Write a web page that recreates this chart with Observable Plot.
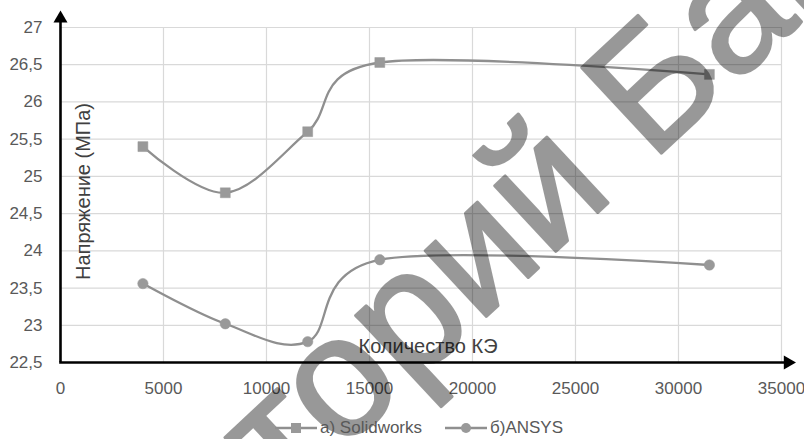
<!DOCTYPE html>
<html>
<head>
<meta charset="utf-8">
<script src="https://cdn.jsdelivr.net/npm/d3@7"></script>
<script src="https://cdn.jsdelivr.net/npm/@observablehq/plot@0.6"></script>
<style>
  body { margin: 0; background: #fff; font-family: "Liberation Sans", Arial, sans-serif; }
  #wrap { position: relative; width: 804px; height: 439px; overflow: hidden; }
  #wrap svg { overflow: visible; }
  .legend { position: absolute; top: 415px; left: 0; width: 804px; height: 26px; font-size: 17px; color: #595959; }
  .item { position: absolute; top: 0; display: flex; align-items: center; height: 26px; }
  .item svg { margin-right: 3px; }
</style>
</head>
<body>
<div id="wrap"></div>
<script>
// ---- data ----
const elementCounts = [4000, 8000, 12000, 15500, 31500];
const solidworksValues = [25.4, 24.78, 25.6, 26.53, 26.37];
const ansysValues = [23.56, 23.02, 22.78, 23.88, 23.81];
const seriesNames = ["а) Solidworks", "б)ANSYS"];
const xTickValues = [0, 5000, 10000, 15000, 20000, 25000, 30000, 35000];
const yTickValues = [22.5, 23, 23.5, 24, 24.5, 25, 25.5, 26, 26.5, 27];
const xAxisTitle = "Количество КЭ";
const yAxisTitle = "Напряжение (МПа)";
const watermark = "Репозиторий БарГУ";

const swRows = elementCounts.map((x, i) => ({x, y: solidworksValues[i]}));
const anRows = elementCounts.map((x, i) => ({x, y: ansysValues[i]}));

const lineColor = "#8f8f8f";
const markColor = "#999999";

const xMin = xTickValues[0], xMax = xTickValues[xTickValues.length - 1];
const yMin = yTickValues[0], yMax = yTickValues[yTickValues.length - 1];
const xArrowTip = xMax + 580;
const yArrowTip = yMax + 0.19;

const chart = Plot.plot({
  width: 804,
  height: 410,
  marginLeft: 60,
  marginRight: 23,
  marginTop: 27,
  marginBottom: 48,
  style: {fontSize: "17px", fontFamily: "'Liberation Sans', Arial, sans-serif", color: "#595959", overflow: "visible", background: "transparent"},
  x: {domain: [xMin, xMax]},
  y: {domain: [yMin, yMax]},
  marks: [
    Plot.gridX(xTickValues.slice(1), {stroke: "#d9d9d9", strokeOpacity: 1, strokeWidth: 1.2}),
    Plot.gridY(yTickValues.slice(1), {stroke: "#d9d9d9", strokeOpacity: 1, strokeWidth: 1.2}),
    Plot.axisX({ticks: xTickValues, tickSize: 0, tickPadding: 19, tickFormat: d => String(d), fontSize: 17, label: null}),
    Plot.axisY({ticks: yTickValues, tickSize: 0, tickPadding: 18, tickFormat: d => String(d).replace(".", ","), fontSize: 17, label: null}),
    // axis lines with arrowheads
    Plot.ruleX([xMin], {y1: yMin, y2: yArrowTip - 0.08, stroke: "black", strokeWidth: 2.6, clip: false}),
    Plot.ruleY([yMin], {x1: xMin - 40, x2: xArrowTip - 300, stroke: "black", strokeWidth: 2.6, clip: false}),
    Plot.dot([{x: xMin, y: yArrowTip - 0.07}], {x: "x", y: "y", symbol: "triangle", r: 5.2, fill: "black", stroke: "none"}),
    Plot.dot([{x: xArrowTip - 270, y: yMin}], {x: "x", y: "y", symbol: "triangle", r: 5.2, fill: "black", stroke: "none", rotate: 90}),
    // series
    Plot.line(swRows, {x: "x", y: "y", curve: "cardinal", tension: 0, stroke: lineColor, strokeWidth: 2.3}),
    Plot.line(anRows, {x: "x", y: "y", curve: "cardinal", tension: 0, stroke: lineColor, strokeWidth: 2.3}),
    Plot.dot(swRows, {x: "x", y: "y", symbol: "square", r: 5.6, fill: markColor, stroke: markColor, strokeWidth: 0.5}),
    Plot.dot(anRows, {x: "x", y: "y", symbol: "circle", r: 5.2, fill: markColor, stroke: markColor, strokeWidth: 0.5}),
    // axis titles
    Plot.text([yAxisTitle], {frameAnchor: "left", textAnchor: "middle", lineAnchor: "middle", dx: 23, dy: -3.5, rotate: -90, fontSize: 20, fill: "#404040", text: d => d}),
    Plot.text([xAxisTitle], {frameAnchor: "bottom", dx: 7, dy: -15.5, lineAnchor: "middle", fontSize: 20, fill: "#404040", text: d => d}),
    // watermark
    Plot.text([watermark], {x: () => 16942, y: () => 23.156, rotate: -43, fontSize: 170, fill: "black", stroke: "black", strokeWidth: 3, opacity: 0.4, text: d => d, clip: false})
  ]
});
document.getElementById("wrap").appendChild(chart);

// legend
const legend = document.createElement("div");
legend.className = "legend";
const items = [
  {name: seriesNames[0], symbol: "square", left: 275},
  {name: seriesNames[1], symbol: "circle", left: 445}
];
for (const it of items) {
  const el = document.createElement("div");
  el.className = "item";
  el.style.left = it.left + "px";
  const mark = it.symbol === "square"
    ? `<rect x="16" y="8" width="10" height="10" fill="${markColor}"/>`
    : `<circle cx="21" cy="13" r="5" fill="${markColor}"/>`;
  el.innerHTML = `<svg width="42" height="26"><line x1="0" x2="42" y1="13" y2="13" stroke="${lineColor}" stroke-width="2.3"/>${mark}</svg><span>${it.name}</span>`;
  legend.appendChild(el);
}
document.getElementById("wrap").appendChild(legend);
</script>
</body>
</html>
